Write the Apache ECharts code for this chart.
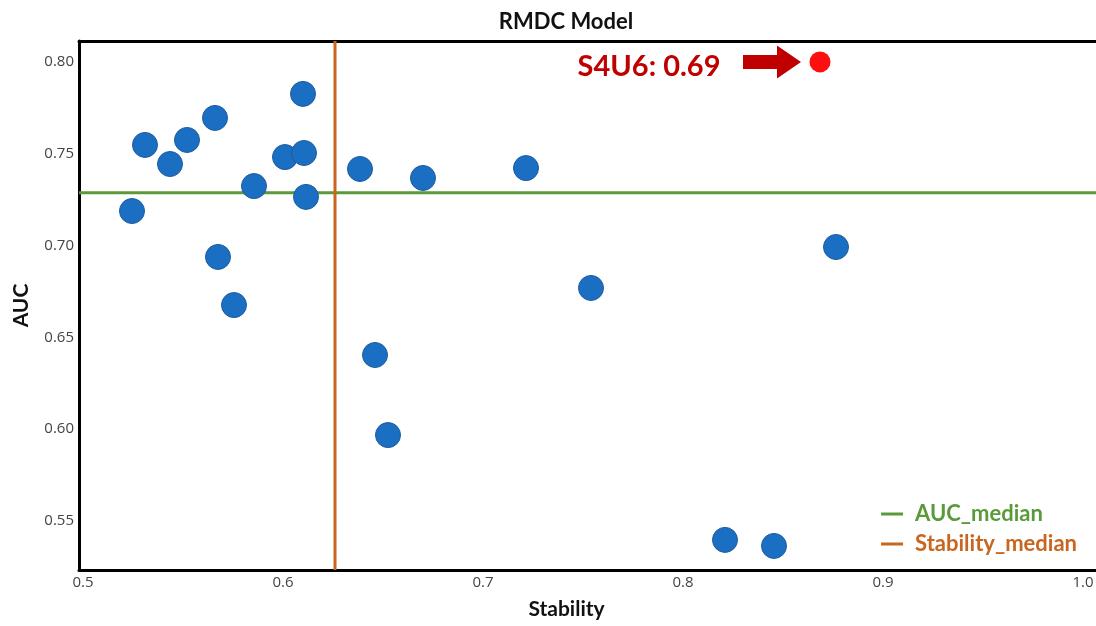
<!DOCTYPE html>
<html><head><meta charset="utf-8">
<script src="https://cdn.jsdelivr.net/npm/echarts@6/dist/echarts.min.js"></script>
<style>html,body{margin:0;padding:0;background:#fff}#c{width:1096px;height:626px}</style>
</head><body><div id="c"></div>
<script>
const stability = [0.5245,0.531,0.5435,0.552,0.566,0.5675,0.5755,0.5855,0.601,0.610,0.6105,0.6115,0.6385,0.670,0.7215,0.646,0.6525,0.754,0.8765,0.821,0.8455];
const auc = [0.7188,0.7548,0.7444,0.7575,0.7695,0.6938,0.6676,0.7324,0.7482,0.7826,0.7504,0.7265,0.7417,0.7368,0.7422,0.6404,0.5968,0.6769,0.6992,0.5397,0.5364];
const highlight = {name:'S4U6', stability:0.8685, auc:0.800, label:'S4U6: 0.69'};
const arrowFrom = [0.830, 0.800];
const arrowTo = [0.859, 0.800];
const aucMedian = 0.7288;
const stabilityMedian = 0.626;
const xRange = [0.498, 1.0165];
const yRange = [0.5233, 0.8114];

const chart = echarts.init(document.getElementById('c'));
const bold = 'Lato';
const near = (v, step) => Math.abs(v/step - Math.round(v/step)) < 1e-6;
const axisLbl = {fontFamily:'Open Sans', fontSize:15, color:'#444'};
chart.setOption({
  animation:false,
  title:{text:'RMDC Model', left:561, textAlign:'center', top:6,
    textStyle:{fontFamily:bold, fontWeight:'bold', fontSize:22, color:'#111'}},
  grid:{left:79, top:41, bottom:56, right:-20, show:false, outerBoundsMode:'none', containLabel:false},
  legend:{right:14, top:498, orient:'vertical', itemGap:8, itemWidth:22, itemHeight:3, icon:'rect',
    textStyle:{fontFamily:bold, fontWeight:'bold', fontSize:22, lineHeight:22, padding:[0,0,0,7]},
    data:[{name:'AUC_median', textStyle:{color:'#5a9a3a'}},
          {name:'Stability_median', textStyle:{color:'#c8651f'}}]},
  xAxis:[{type:'value', min:xRange[0], max:xRange[1], splitNumber:5,
    name:'Stability', nameLocation:'middle', nameGap:29,
    nameTextStyle:{fontFamily:bold, fontWeight:'bold', fontSize:21, color:'#111', padding:[0,62,0,0]},
    axisLine:{show:true, onZero:false, lineStyle:{color:'#000', width:3}}, axisTick:{show:false}, splitLine:{show:false},
    axisLabel:Object.assign({margin:5, formatter:v=>near(v,0.1)?v.toFixed(1):''}, axisLbl)},
   {type:'value', position:'top', min:xRange[0], max:xRange[1],
    axisLine:{show:true, onZero:false, lineStyle:{color:'#000', width:3}}, axisTick:{show:false},
    axisLabel:{show:false}, splitLine:{show:false}}],
  yAxis:{type:'value', min:yRange[0], max:yRange[1], splitNumber:6,
    name:'AUC', nameLocation:'middle', nameGap:47,
    nameTextStyle:{fontFamily:bold, fontWeight:'bold', fontSize:21, color:'#111'},
    axisLine:{show:true, onZero:false, lineStyle:{color:'#000', width:3}}, axisTick:{show:false}, splitLine:{show:false},
    axisLabel:Object.assign({margin:5, formatter:v=>near(v,0.05)?v.toFixed(2):''}, axisLbl)},
  series:[
    {name:'AUC_median', type:'line', symbol:'none', color:'#5a9a3a', lineStyle:{width:3, color:'#5a9a3a'},
     data:[[xRange[0], aucMedian],[xRange[1], aucMedian]], z:2},
    {name:'Stability_median', type:'line', symbol:'none', color:'#c8651f', lineStyle:{width:3, color:'#c8651f'},
     data:[[stabilityMedian, yRange[0]],[stabilityMedian, yRange[1]]], z:2},
    {name:'points', type:'scatter', symbolSize:25, z:3,
     itemStyle:{color:'#1b6fc2', borderColor:'#1d5b9c', borderWidth:1, opacity:1},
     data:stability.map((s,i)=>[s, auc[i]])},
    {name:'highlight', type:'scatter', symbolSize:21, z:4,
     itemStyle:{color:'#fe0f0f', opacity:1},
     label:{show:true, position:'left', distance:89, offset:[0,5], formatter:highlight.label,
       fontFamily:bold, fontWeight:'bold', fontSize:29, color:'#c00000'},
     data:[[highlight.stability, highlight.auc]]},
    {name:'arrow', type:'custom', z:4, silent:true,
     data:[[arrowFrom[0], arrowFrom[1], arrowTo[0], arrowTo[1]]],
     renderItem:(params, api)=>{
       const a = api.coord([api.value(0), api.value(1)]);
       const b = api.coord([api.value(2), api.value(3)]);
       const head = 24, bodyH = 7, headH = 16.5;
       const hx = b[0]-head, y = a[1];
       return {type:'polygon', shape:{points:[
         [a[0], y-bodyH],[hx, y-bodyH],[hx, y-headH],[b[0], y],[hx, y+headH],[hx, y+bodyH],[a[0], y+bodyH]]},
         style:{fill:'#c00000'}};
     }}
  ]
});
</script></body></html>
